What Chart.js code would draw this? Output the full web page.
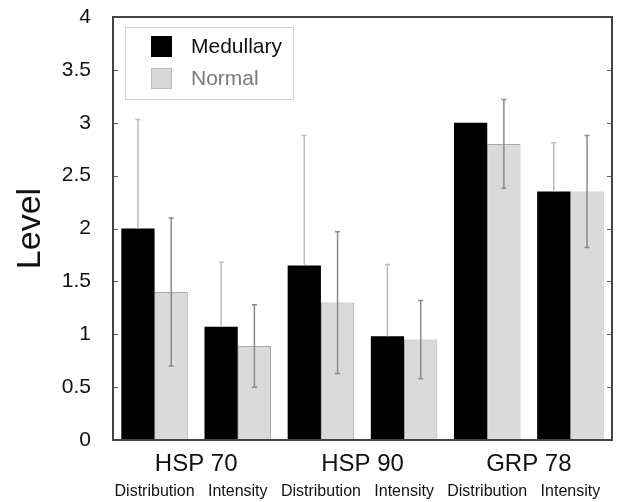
<!DOCTYPE html>
<html>
<head>
<meta charset="utf-8">
<script src="https://cdn.jsdelivr.net/npm/chart.js@4"></script>
<style>
    html, body { margin: 0; padding: 0; background: #fff; }
    #wrap { width: 617px; height: 502px; }
</style>
</head>
<body>
<div id="wrap"><canvas id="levelChart" width="617" height="502"></canvas></div>
<script>

const measures = ["Distribution", "Intensity", "Distribution", "Intensity", "Distribution", "Intensity"];
const proteins = ["HSP 70", "HSP 90", "GRP 78"];

const medullary = [2.0, 1.07, 1.65, 0.98, 3.0, 2.35];
const medullarySd = [1.03, 0.61, 1.23, 0.68, 0, 0.46];

const normal = [1.40, 0.89, 1.30, 0.95, 2.80, 2.35];
const normalSd = [0.70, 0.39, 0.67, 0.37, 0.42, 0.53];

const yTicks = [0, 0.5, 1, 1.5, 2, 2.5, 3, 3.5, 4];

const FONT = "'Liberation Sans', Arial, sans-serif";


// error bars: black bars only show the upper whisker
const errorBars = {
    id: "errorBars",
    afterDatasetsDraw(chart) {
        const ctx = chart.ctx;
        const y = chart.scales.y;
        const sds = [medullarySd, normalSd];

        chart.data.datasets.forEach((ds, i) => {
            const meta = chart.getDatasetMeta(i);
            meta.data.forEach((bar, j) => {
                const sd = sds[i][j];
                if (!sd) return;
                const v = ds.data[j];
                const top = y.getPixelForValue(v + sd);
                const bottom = i === 0 ? bar.y : y.getPixelForValue(v - sd);

                ctx.save();
                ctx.strokeStyle = i === 0 ? "#bcbcbc" : "#a0a0a0";
                ctx.lineWidth = 1.5;
                ctx.beginPath();
                ctx.moveTo(bar.x, top);
                ctx.lineTo(bar.x, bottom);
                ctx.moveTo(bar.x - 2.5, top);
                ctx.lineTo(bar.x + 2.5, top);
                if (i === 1) {
                    ctx.strokeStyle = "#8a8a8a";
                    ctx.moveTo(bar.x - 2.5, bottom);
                    ctx.lineTo(bar.x + 2.5, bottom);
                }
                ctx.stroke();
                ctx.restore();
            });
        });
    }
};


// box round the plot, inner ticks on both sides, legend in the corner
const frame = {
    id: "frame",
    afterDraw(chart) {
        const ctx = chart.ctx;
        const a = chart.chartArea;
        const y = chart.scales.y;

        ctx.save();
        ctx.strokeStyle = "#666";
        ctx.lineWidth = 1;
        yTicks.forEach(t => {
            const py = Math.round(y.getPixelForValue(t)) + 0.5;
            ctx.beginPath();
            ctx.moveTo(a.left, py);
            ctx.lineTo(a.left + 5, py);
            ctx.moveTo(a.right, py);
            ctx.lineTo(a.right - 5, py);
            ctx.stroke();
        });

        ctx.strokeStyle = "#444";
        ctx.lineWidth = 2;
        ctx.strokeRect(a.left, a.top, a.right - a.left, a.bottom - a.top);

        // legend
        ctx.strokeStyle = "#cfcfcf";
        ctx.lineWidth = 1;
        ctx.strokeRect(125.5, 27.5, 168, 72);

        ctx.fillStyle = "#000";
        ctx.fillRect(151, 36, 21, 21);
        ctx.fillStyle = "#d8d8d8";
        ctx.fillRect(151, 68, 21, 21);
        ctx.strokeStyle = "#bbb";
        ctx.strokeRect(151.5, 68.5, 20, 20);

        ctx.font = "21px " + FONT;
        ctx.textBaseline = "middle";
        ctx.fillStyle = "#111";
        ctx.fillText(chart.data.datasets[0].label, 191, 47);
        ctx.fillStyle = "#7a7a7a";
        ctx.fillText(chart.data.datasets[1].label, 191, 79);
        ctx.restore();
    }
};


new Chart(document.getElementById("levelChart"), {

    type: "bar",

    data: {
        labels: measures,
        datasets: [
            {
                label: "Medullary",
                data: medullary,
                backgroundColor: "#000",
                borderWidth: 0,
                categoryPercentage: 0.8,
                barPercentage: 1.0
            },
            {
                label: "Normal",
                data: normal,
                backgroundColor: "#dadada",
                borderColor: "#aaa",
                borderWidth: 1,
                categoryPercentage: 0.8,
                barPercentage: 1.0
            }
        ]
    },

    options: {
        responsive: false,
        animation: false,
        layout: { padding: { top: 17, right: 5, left: 0, bottom: 0 } },
        plugins: {
            legend: { display: false },
            tooltip: { enabled: false }
        },
        scales: {
            x: {
                position: "bottom",
                weight: 2,
                grid: { display: false },
                border: { display: false },
                ticks: {
                    font: { size: 16, family: FONT },
                    color: "#111",
                    padding: 0,
                    maxRotation: 0,
                    autoSkip: false
                },
                afterFit: s => { s.height = 28; }
            },
            group: {
                type: "category",
                labels: proteins,
                position: "bottom",
                weight: 1,
                offset: true,
                grid: { display: false },
                border: { display: false },
                ticks: {
                    font: { size: 24, family: FONT },
                    color: "#111",
                    padding: 2,
                    maxRotation: 0
                },
                afterFit: s => { s.height = 34; }
            },
            y: {
                min: 0,
                max: 4,
                afterBuildTicks: s => { s.ticks = yTicks.map(v => ({ value: v })); },
                grid: { display: false },
                border: { display: false },
                ticks: {
                    font: { size: 21, family: FONT },
                    color: "#111",
                    padding: 14,
                    callback: v => String(v)
                },
                title: {
                    display: true,
                    text: "Level",
                    font: { size: 34, family: FONT },
                    color: "#111",
                    padding: { top: 10, bottom: 0 }
                },
                afterFit: s => {
                    s.width = 113;
                    s.paddingTop = 0;
                    s.paddingBottom = 0;
                }
            }
        }
    },

    plugins: [errorBars, frame]

});

</script>
</body>
</html>
